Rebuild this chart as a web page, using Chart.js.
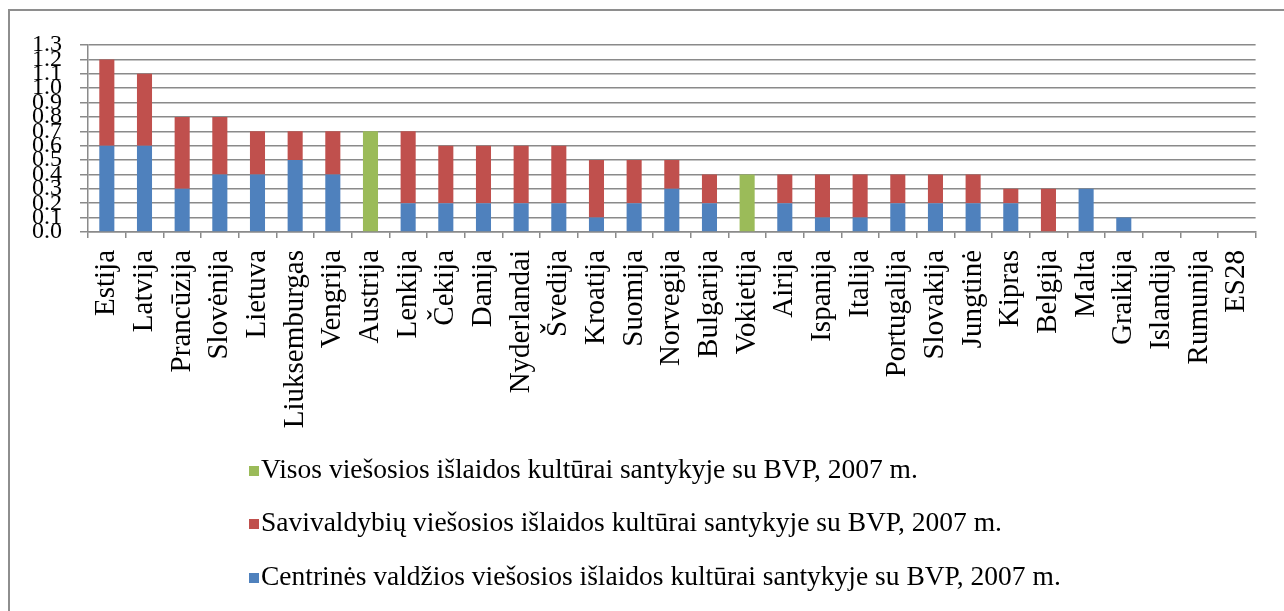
<!DOCTYPE html>
<html lang="lt">
<head>
<meta charset="utf-8">
<title>Viešosios išlaidos kultūrai santykyje su BVP, 2007 m.</title>
<script src="https://cdn.jsdelivr.net/npm/chart.js@4.4.1/dist/chart.umd.min.js"></script>
<style>
  html, body { margin: 0; padding: 0; background: #fff; overflow: hidden; }
  #wrap { position: relative; width: 1284px; height: 611px; }
  #frame { position: absolute; left: 8px; top: 9px; width: 1300px; height: 620px;
           border-top: 2px solid #8e8e8e; border-left: 2px solid #8e8e8e; }
  canvas { position: absolute; left: 0; top: 0; }
</style>
</head>
<body>
<div id="wrap">
  <div id="frame"></div>
  <canvas id="chart" width="1284" height="611"></canvas>
</div>
<script>
// ====== Duomenys ======
const salys = ['Estija', 'Latvija', 'Prancūzija', 'Slovėnija', 'Lietuva', 'Liuksemburgas',
  'Vengrija', 'Austrija', 'Lenkija', 'Čekija', 'Danija', 'Nyderlandai', 'Švedija',
  'Kroatija', 'Suomija', 'Norvegija', 'Bulgarija', 'Vokietija', 'Airija', 'Ispanija',
  'Italija', 'Portugalija', 'Slovakija', 'Jungtinė', 'Kipras', 'Belgija', 'Malta',
  'Graikija', 'Islandija', 'Rumunija', 'ES28'];

const centrines =    [0.6, 0.6, 0.3, 0.4, 0.4, 0.5, 0.4, 0, 0.2, 0.2, 0.2, 0.2, 0.2, 0.1, 0.2, 0.3,
                      0.2, 0, 0.2, 0.1, 0.1, 0.2, 0.2, 0.2, 0.2, 0, 0.3, 0.1, 0, 0, 0];
const savivaldybiu = [0.6, 0.5, 0.5, 0.4, 0.3, 0.2, 0.3, 0, 0.5, 0.4, 0.4, 0.4, 0.4, 0.4, 0.3, 0.2,
                      0.2, 0, 0.2, 0.3, 0.3, 0.2, 0.2, 0.2, 0.1, 0.3, 0, 0, 0, 0, 0];
const visos =        [0, 0, 0, 0, 0, 0, 0, 0.7, 0, 0, 0, 0, 0, 0, 0, 0,
                      0, 0.4, 0, 0, 0, 0, 0, 0, 0, 0, 0, 0, 0, 0, 0];

const yZymos = [0.0, 0.1, 0.2, 0.3, 0.4, 0.5, 0.6, 0.7, 0.8, 0.9, 1.0, 1.1, 1.2, 1.3];

const pavadinimai = [
  'Centrinės valdžios viešosios išlaidos kultūrai santykyje su BVP, 2007 m.',
  'Savivaldybių viešosios išlaidos kultūrai santykyje su BVP, 2007 m.',
  'Visos viešosios išlaidos kultūrai santykyje su BVP, 2007 m.'
];
const spalvos = ['#4f81bd', '#c0504d', '#9bbb59'];

// ====== Legenda po grafiku (viena eilutė kiekvienam) ======
const legendaApacioje = {
  id: 'legendaApacioje',
  afterDraw(chart) {
    const ctx = chart.ctx;
    const eilutes = [2, 1, 0];
    const yEil = [471, 524, 578];
    ctx.save();
    ctx.font = '27.5px "Liberation Serif"';
    ctx.textBaseline = 'middle';
    eilutes.forEach((i, n) => {
      const ds = chart.data.datasets[i];
      ctx.fillStyle = ds.backgroundColor;
      ctx.fillRect(249, yEil[n] - 5, 10, 10);
      ctx.fillStyle = '#000';
      ctx.fillText(ds.label, 261, yEil[n]);
    });
    ctx.restore();
  }
};

const pilka = '#8a8a8a';
Chart.defaults.font.family = '"Liberation Serif", serif';
Chart.defaults.color = '#000';

const ctx = document.getElementById('chart').getContext('2d');
new Chart(ctx, {
  type: 'bar',
  data: {
    labels: salys,
    datasets: [centrines, savivaldybiu, visos].map((d, i) => ({
      label: pavadinimai[i],
      data: d,
      backgroundColor: spalvos[i],
      borderWidth: 0,
      categoryPercentage: 1,
      barPercentage: 0.4
    }))
  },
  options: {
    responsive: false,
    animation: false,
    layout: { padding: { left: 0, top: 45, right: 26, bottom: 0 } },
    plugins: {
      legend: { display: false },
      tooltip: { enabled: false }
    },
    scales: {
      x: {
        stacked: true,
        afterFit(scale) { scale.height = 379; },
        grid: { drawOnChartArea: false, drawTicks: true, tickLength: 6, color: pilka, lineWidth: 1.5 },
        border: { display: true, color: pilka, width: 1.5 },
        ticks: { autoSkip: false, minRotation: 90, maxRotation: 90, padding: 12,
                 font: { size: 29 } }
      },
      y: {
        stacked: true,
        min: 0,
        max: 1.3,
        afterFit(scale) { scale.width = 88; },
        afterBuildTicks(scale) { scale.ticks = yZymos.map(v => ({ value: v })); },
        grid: { color: pilka, lineWidth: 1.5, tickLength: 8 },
        border: { display: true, color: pilka, width: 1.5 },
        ticks: { autoSkip: false, padding: 18, font: { size: 24 },
                 callback: v => Number(v).toFixed(1) }
      }
    }
  },
  plugins: [legendaApacioje]
});
</script>
</body>
</html>
